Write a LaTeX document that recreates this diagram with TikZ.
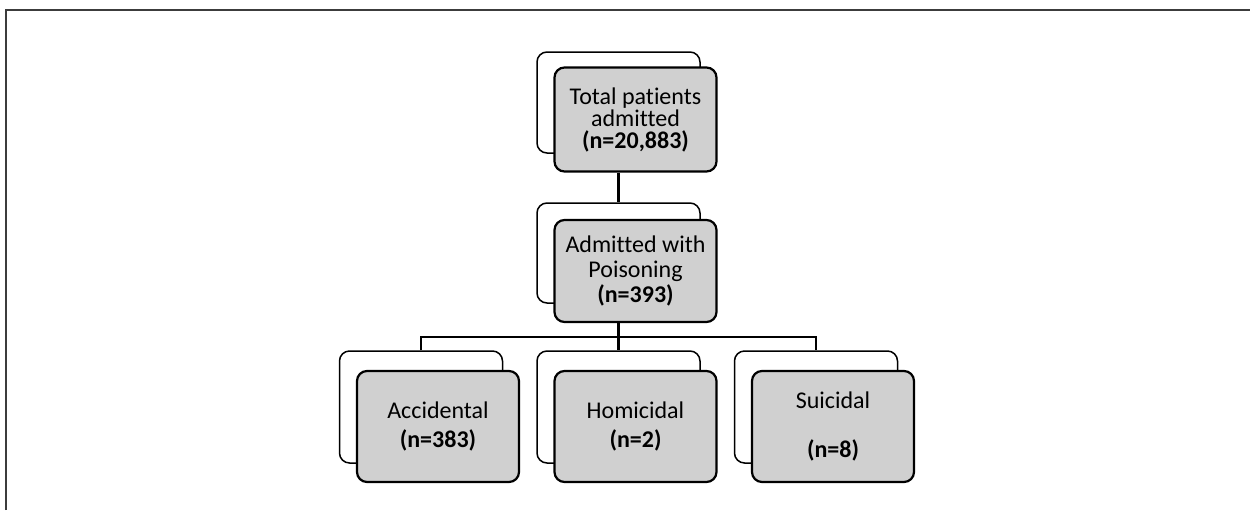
\documentclass[tikz,border=0pt]{standalone}
\usepackage{fontspec}
\setmainfont{Carlito}[Ligatures=NoCommon]
\usepackage{xcolor}
\usetikzlibrary{positioning}

\definecolor{boxgray}{RGB}{208,208,208}
\definecolor{framegray}{RGB}{60,60,60}

\tikzset{
  backbox/.style={draw, line width=0.75pt, rounded corners=5pt, fill=white,
    minimum width=81.5pt, minimum height=50.5pt, inner sep=0pt},
  frontbox/.style={draw, line width=1.1pt, rounded corners=5pt, fill=boxgray,
    minimum width=81pt, minimum height=52pt, inner sep=0pt, align=center,
    font=\fontsize{12}{10.5}\selectfont, xshift=8.5pt, yshift=-8.5pt},
  link/.style={line width=1.2pt}
}

\begin{document}
\begin{tikzpicture}[x=0.5pt,y=-0.5pt]
  \useasboundingbox (0,0) rectangle (1250,510);
  % frame
  \draw[line width=1pt, framegray] (6,510) -- (6,10) -- (1250,10);

  % back boxes
  \node[backbox] (btotal) at (618.5,102.5) {};
  \node[backbox, minimum height=50pt] (bpois) at (618.5,253) {};
  \node[backbox, minimum height=56pt] (bacc) at (421,407) {};
  \node[backbox, minimum height=56pt] (bhom) at (618.5,407) {};
  \node[backbox, minimum height=56pt] (bsui) at (816,407) {};

  % front boxes
  \node[frontbox] (total) at (btotal)
    {Total patients\\[0.5pt]admitted\\[0.5pt]\textbf{(n=20,883)}};
  \node[frontbox, minimum height=51pt, yshift=-0.5pt] (pois) at (bpois)
    {Admitted with\\[2pt]Poisoning\\[1pt]\textbf{(n=393)}};
  \node[frontbox, minimum height=55.5pt, yshift=-1.25pt] (acc) at (bacc)
    {Accidental\\[4pt]\textbf{(n=383)}};
  \node[frontbox, minimum height=55.5pt, yshift=-1.25pt] (hom) at (bhom)
    {Homicidal\\[4pt]\textbf{(n=2)}};
  \node[frontbox, minimum height=55.5pt, yshift=-1.25pt] (sui) at (bsui)
    {\raisebox{2pt}{Suicidal}\\[12pt]\textbf{(n=8)}};

  % connectors
  \coordinate (bus) at (618.5,337);
  \draw[link] (btotal.north |- total.south) -- (bpois.north);
  \draw[link] (bpois.north |- pois.south) -- (bhom.north);
  \draw[link] (bacc.north) |- (bus) -| (bsui.north);
\end{tikzpicture}
\end{document}
